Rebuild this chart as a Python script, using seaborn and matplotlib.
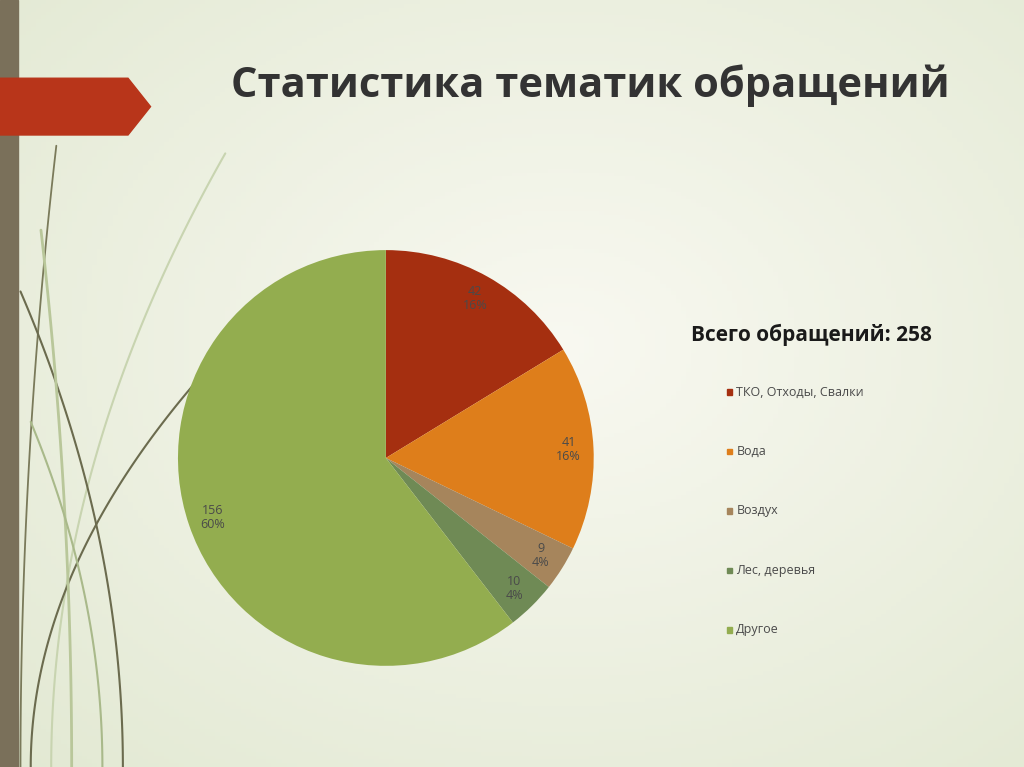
import numpy as np
import matplotlib.pyplot as plt
import seaborn as sns
from matplotlib.patches import Polygon, Rectangle

sns.set_theme(style="white")
plt.rcParams['font.family'] = ['Open Sans', 'DejaVu Sans']

categories = ['ТКО, Отходы, Свалки', 'Вода', 'Воздух', 'Лес, деревья', 'Другое']
values = [42, 41, 9, 10, 156]
percents = ['16%', '16%', '4%', '4%', '60%']
colors = ['#A52F10', '#DE7E1B', '#A6855C', '#6F8A55', '#93AD4F']
title = 'Статистика тематик обращений'
total_label = 'Всего обращений: 258'

fig = plt.figure(figsize=(10.24, 7.67), dpi=100)

# background gradient
bg = fig.add_axes([0, 0, 1, 1])
yy, xx = np.mgrid[0:1:200j, 0:1:200j]
d = np.sqrt((xx - 0.55) ** 2 + (yy - 0.55) ** 2)
c0 = np.array([0.975, 0.975, 0.945])
c1 = np.array([0.89, 0.915, 0.83])
img = c0 + (c1 - c0) * np.clip(d / 0.75, 0, 1)[..., None]
bg.imshow(img, extent=[0, 1, 0, 1], aspect='auto', origin='lower')
bg.set_xlim(0, 1)
bg.set_ylim(0, 1)
bg.axis('off')

# decorative curves on the left
t = np.linspace(0, 1, 100)
for x0, x1, y1, col, lw in [(0.02, 0.055, 0.81, '#7a7a5a', 1.3),
                            (0.05, 0.22, 0.80, '#c8d4b0', 1.5),
                            (0.03, 0.19, 0.50, '#6b6b4e', 1.5),
                            (0.12, 0.02, 0.62, '#6b6b4e', 1.5),
                            (0.07, 0.04, 0.70, '#b9c79a', 2.0),
                            (0.10, 0.03, 0.45, '#a9b98a', 1.5)]:
    xs = x0 + (x1 - x0) * t ** 2
    ys = y1 * t
    bg.plot(xs, ys, color=col, lw=lw)
bg.add_patch(Rectangle((0, 0), 0.018, 1, color='#7a705a'))
bg.add_patch(Polygon([[0, 0.898], [0.125, 0.898], [0.147, 0.861],
                      [0.125, 0.824], [0, 0.824]], color='#B8351A'))

fig.text(0.576, 0.888, title, ha='center', va='center', fontsize=30,
         fontweight='bold', color='#333333')

ax = fig.add_axes([0.1738, 0.1317, 0.406, 0.5424])
wedges, _ = ax.pie(values, colors=colors, startangle=90, counterclock=False,
                   wedgeprops=dict(linewidth=0))
ax.set_xlim(-1, 1)
ax.set_ylim(-1, 1)
ax.set_aspect('equal')
for w, v, p in zip(wedges, values, percents):
    ang = np.deg2rad((w.theta1 + w.theta2) / 2)
    ax.text(0.88 * np.cos(ang), 0.88 * np.sin(ang), f'{v}\n{p}', ha='center',
            va='center', fontsize=9, color='#4a4a4a', linespacing=1.1)

fig.text(0.675, 0.555, total_label, fontsize=15, fontweight='bold', color='#1a1a1a')
for i, (cat, col) in enumerate(zip(categories, colors)):
    y = 0.489 - i * 0.0775
    fig.patches.append(Rectangle((0.7095, y - 0.004), 0.0055, 0.0075,
                                 transform=fig.transFigure, color=col))
    fig.text(0.719, y, cat, fontsize=9, va='center', color='#4a4a4a')

fig.savefig('out.png', dpi=100)
